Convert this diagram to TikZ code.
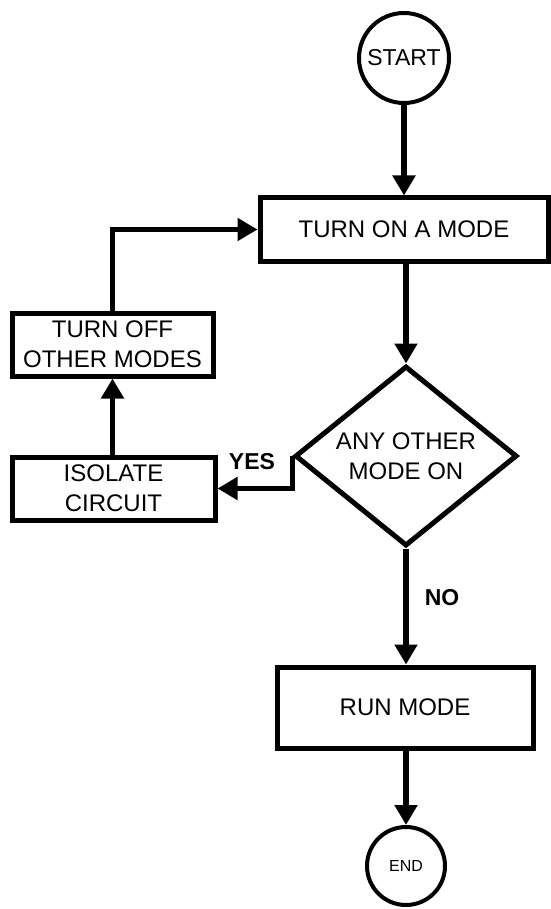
\documentclass[tikz,border=0pt]{standalone}
\usepackage{fontspec}
\setmainfont{Liberation Sans}
\usetikzlibrary{arrows.meta,shapes.geometric}
\begin{document}
\begin{tikzpicture}[x=1pt,y=-1pt,
  box/.style={draw,line width=5pt,rectangle,inner sep=0pt,align=center,
    font=\fontsize{24}{30}\selectfont},
  term/.style={draw,line width=4pt,circle,inner sep=0pt},
  dec/.style={draw,line width=5pt,diamond,inner sep=0pt,shape aspect=1.2,
    align=center,font=\fontsize{24}{30}\selectfont},
  arr/.style={line width=5.5pt,-{Triangle[length=20pt,width=22pt]}},
  lbl/.style={font=\fontsize{23}{27}\selectfont\bfseries}]
\useasboundingbox (0,0) rectangle (550,909);
\node[term,minimum size=90pt,font=\fontsize{23}{27}\selectfont] (start) at (404,58) {START};
\node[box,minimum width=288pt,minimum height=63pt] (turnon) at (404,229.5) {TURN ON A MODE};
\node[dec,minimum width=222pt,minimum height=180pt] (dia) at (406,456) {ANY OTHER\\MODE ON};
\node[box,minimum width=203pt,minimum height=63pt] (iso) at (113.5,488.5) {ISOLATE\\CIRCUIT};
\node[box,minimum width=201pt,minimum height=63pt] (off) at (112.5,344.5) {TURN OFF\\OTHER MODES};
\node[box,minimum width=256pt,minimum height=81pt] (run) at (405,707.5) {RUN MODE};
\node[term,minimum size=78pt,font=\fontsize{16}{20}\selectfont] (end) at (406,866) {END};
\node[lbl] (yes) at (252,462) {YES};
\node[lbl] (no) at (442,598) {NO};
\draw[arr] (start.south) -- (start.south |- turnon.north);
\draw[arr] (turnon.south -| dia.north) -- (dia.north);
\draw[arr] (dia.south) -- (dia.south |- run.north);
\draw[arr] (run.south -| end.north) -- (end.north);
\draw[arr] (dia.west) |- (iso.east);
\draw[arr] (iso.north -| off.south) -- (off.south);
\draw[arr] (off.north) |- (turnon.west);
\end{tikzpicture}
\end{document}
